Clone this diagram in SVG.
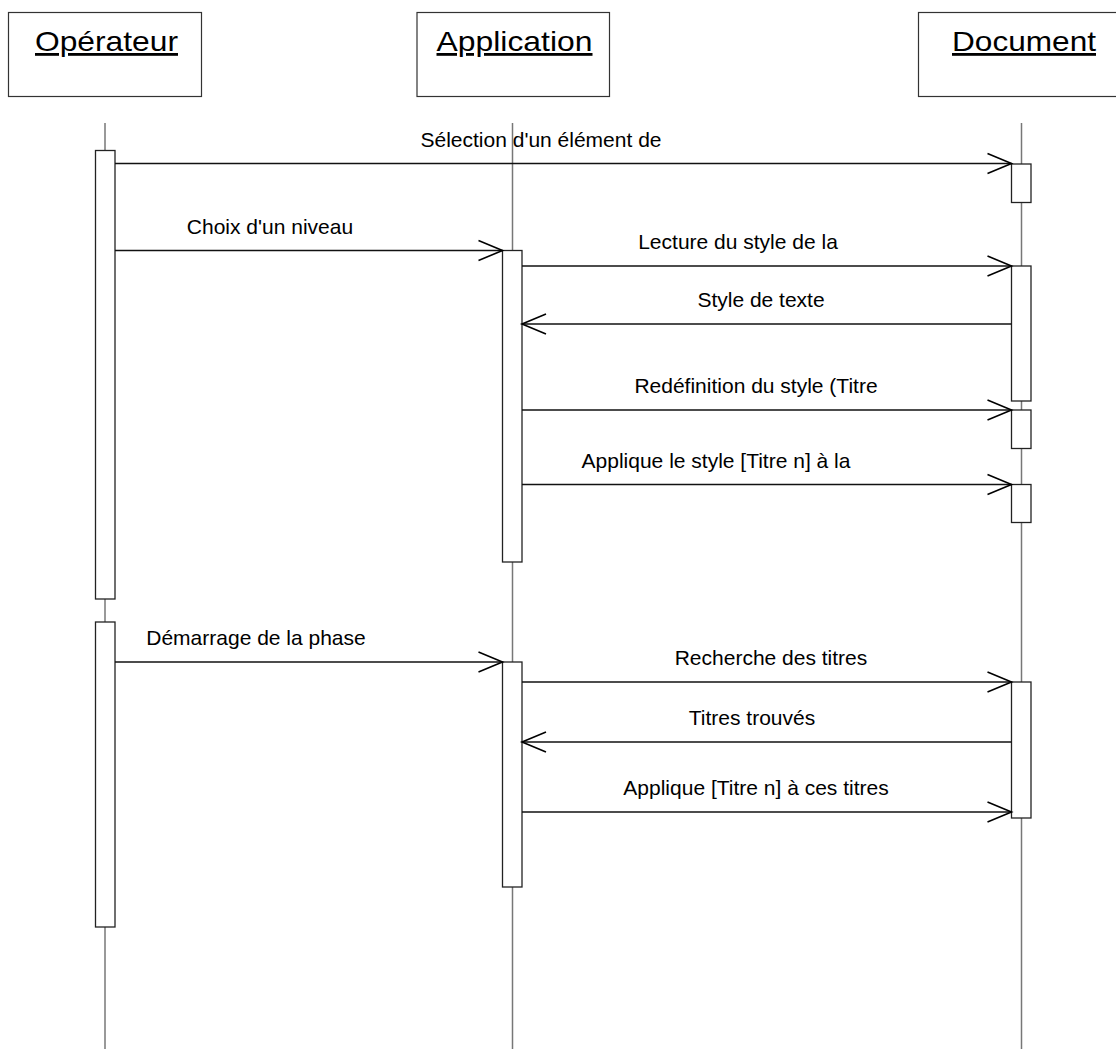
<svg xmlns="http://www.w3.org/2000/svg" width="1116" height="1050" viewBox="0 0 1116 1050">
<style>
.hdr{fill:#fff;stroke:#333;stroke-width:1.2}
.htxt{font-family:"Liberation Sans",Arial,sans-serif;font-size:28px;fill:#000;text-anchor:middle;text-decoration:underline}
.life{stroke:#777;stroke-width:1.5;fill:none}
.act{fill:#fff;stroke:#222;stroke-width:1.3}
.msg{stroke:#111;stroke-width:1.3;fill:none;marker-end:url(#open)}
.lbl{font-family:"Liberation Sans",Arial,sans-serif;font-size:21px;fill:#000;text-anchor:middle}
</style>
<defs>
<marker id="open" markerUnits="userSpaceOnUse" markerWidth="26" markerHeight="22" refX="24" refY="11" orient="auto" overflow="visible">
<path d="M0,1 L24,11 L0,21" fill="none" stroke="#000" stroke-width="1.6"/>
</marker>
</defs>
<rect width="1116" height="1050" fill="#fff"/>
<g id="operateur">
<rect class="hdr" x="8.5" y="12.5" width="193" height="84"/>
<text class="htxt" x="106.5" y="51" textLength="143" lengthAdjust="spacingAndGlyphs">Opérateur</text>
<line class="life" x1="105" y1="123" x2="105" y2="1049"/>
<rect class="act" x="95.5" y="150.5" width="19.5" height="448.5"/>
<rect class="act" x="95.5" y="622" width="19.5" height="305"/>
</g>
<g id="application">
<rect class="hdr" x="417" y="12.5" width="192.5" height="84"/>
<text class="htxt" x="514.5" y="51" textLength="156" lengthAdjust="spacingAndGlyphs">Application</text>
<line class="life" x1="512.5" y1="123" x2="512.5" y2="1049"/>
<rect class="act" x="502.5" y="250.5" width="19.5" height="311.5"/>
<rect class="act" x="502.5" y="662" width="19.5" height="225"/>
</g>
<g id="document">
<rect class="hdr" x="918.5" y="12.5" width="200" height="84"/>
<text class="htxt" x="1024" y="51" textLength="144" lengthAdjust="spacingAndGlyphs">Document</text>
<line class="life" x1="1021.5" y1="123" x2="1021.5" y2="1049"/>
<rect class="act" x="1011.5" y="164" width="19.5" height="38.5"/>
<rect class="act" x="1011.5" y="266" width="19.5" height="135"/>
<rect class="act" x="1011.5" y="410" width="19.5" height="38.5"/>
<rect class="act" x="1011.5" y="484.5" width="19.5" height="38"/>
<rect class="act" x="1011.5" y="682" width="19.5" height="136"/>
</g>
<g id="connectors">
<line class="msg" x1="115" y1="163.5" x2="1011.5" y2="163.5"/>
<text class="lbl" x="541" y="146.5">Sélection d'un élément de</text>
<line class="msg" x1="115" y1="250.5" x2="502.5" y2="250.5"/>
<text class="lbl" x="270" y="233.5">Choix d'un niveau</text>
<line class="msg" x1="522" y1="266" x2="1011.5" y2="266"/>
<text class="lbl" x="738" y="249">Lecture du style de la</text>
<line class="msg" x1="1011.5" y1="324" x2="522" y2="324"/>
<text class="lbl" x="761" y="307">Style de texte</text>
<line class="msg" x1="522" y1="410" x2="1011.5" y2="410"/>
<text class="lbl" x="756" y="393">Redéfinition du style (Titre</text>
<line class="msg" x1="522" y1="484.5" x2="1011.5" y2="484.5"/>
<text class="lbl" x="716" y="467.5">Applique le style [Titre n] à la</text>
<line class="msg" x1="115" y1="662" x2="502.5" y2="662"/>
<text class="lbl" x="256" y="645">Démarrage de la phase</text>
<line class="msg" x1="522" y1="682" x2="1011.5" y2="682"/>
<text class="lbl" x="771" y="665">Recherche des titres</text>
<line class="msg" x1="1011.5" y1="742" x2="522" y2="742"/>
<text class="lbl" x="752" y="725">Titres trouvés</text>
<line class="msg" x1="522" y1="812" x2="1011.5" y2="812"/>
<text class="lbl" x="756" y="795">Applique [Titre n] à ces titres</text>
</g>
</svg>
